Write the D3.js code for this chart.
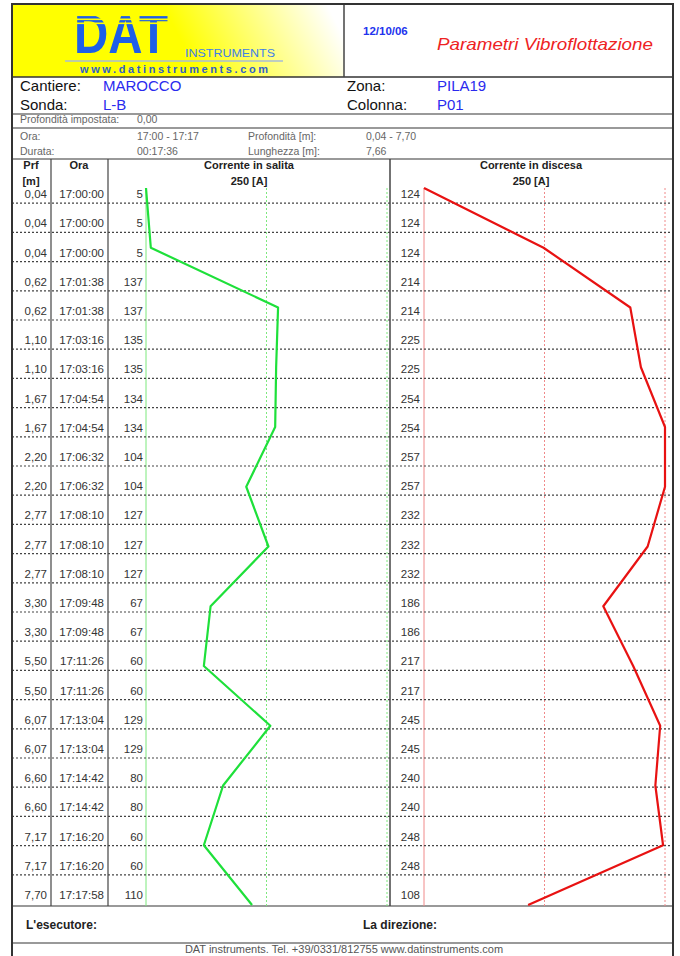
<!DOCTYPE html>
<html>
<head>
<meta charset="utf-8">
<script src="https://cdn.jsdelivr.net/npm/d3@7"></script>
<style>
  body { margin: 0; background: #fff; }
  svg { display: block; font-family: Arial, "Liberation Sans", sans-serif; }
</style>
</head>
<body>
<svg id="chart" width="680" height="956"></svg>
<script>
// table rows
var depths = ["0,04","0,04","0,04","0,62","0,62","1,10","1,10","1,67","1,67","2,20","2,20","2,77","2,77","2,77","3,30","3,30","5,50","5,50","6,07","6,07","6,60","6,60","7,17","7,17","7,70"];
var times = ["17:00:00","17:00:00","17:00:00","17:01:38","17:01:38","17:03:16","17:03:16","17:04:54","17:04:54","17:06:32","17:06:32","17:08:10","17:08:10","17:08:10","17:09:48","17:09:48","17:11:26","17:11:26","17:13:04","17:13:04","17:14:42","17:14:42","17:16:20","17:16:20","17:17:58"];
var upRows = [5,5,5,137,137,135,135,134,134,104,104,127,127,127,67,67,60,60,129,129,80,80,60,60,110];
var downRows = [124,124,124,214,214,225,225,254,254,257,257,232,232,232,186,186,217,217,245,245,240,240,248,248,108];

// curve vertices (sampled current)
var upCurve = [0,5,137,135,134,104,127,67,60,129,80,60,110];
var downCurve = [0,124,214,225,254,257,232,186,217,245,240,248,108];
var gridTicks = [0,125,250];

var svg = d3.select("#chart");
var L = 12, R = 673;

// header gradient
var defs = svg.append("defs");
var grad = defs.append("linearGradient").attr("id","yel")
    .attr("gradientUnits","userSpaceOnUse")
    .attr("x1",200).attr("y1",77).attr("x2",330).attr("y2",10);
grad.append("stop").attr("offset",0).attr("stop-color","#ffff00");
grad.append("stop").attr("offset",1).attr("stop-color","#ffffff");
defs.append("clipPath").attr("id","plotclip")
    .append("rect").attr("x",L).attr("y",159).attr("width",R-L).attr("height",906-159);

svg.append("rect").attr("x",L).attr("y",4).attr("width",344-L).attr("height",73).attr("fill","url(#yel)");

// logo
var logo = svg.append("g");
logo.append("text").attr("x",74).attr("y",53).attr("font-size",56).attr("font-weight","bold")
    .attr("textLength",94).attr("lengthAdjust","spacingAndGlyphs")
    .attr("fill","#1e5fe8").text("DAT");
[14.5,18.5,22.5].forEach(function(y){
    logo.append("rect").attr("x",72).attr("y",y).attr("width",100).attr("height",1.6).attr("fill","url(#yel)");
});
logo.append("text").attr("x",185).attr("y",57).attr("font-size",10.5)
    .attr("textLength",90).attr("lengthAdjust","spacingAndGlyphs")
    .attr("fill","#3f80e8").text("INSTRUMENTS");
logo.append("line").attr("x1",65).attr("x2",283).attr("y1",61).attr("y2",61)
    .attr("stroke","#a8bcd6").attr("stroke-width",1.5);
logo.append("text").attr("x",80).attr("y",73).attr("font-size",11).attr("font-weight","bold")
    .attr("textLength",188).attr("lengthAdjust","spacing")
    .attr("fill","#2f5fc8").text("www.datinstruments.com");

svg.append("text").attr("x",363).attr("y",35).attr("font-size",11.5).attr("font-weight","bold")
    .attr("fill","#2233ee").text("12/10/06");
svg.append("text").attr("x",437).attr("y",50).attr("font-size",16.5).attr("font-style","italic")
    .attr("textLength",216).attr("lengthAdjust","spacingAndGlyphs")
    .attr("fill","#ee2222").text("Parametri Vibroflottazione");

// info block
var info = [
    {x:20,y:91,t:"Cantiere:",c:"#111"},{x:103,y:91,t:"MAROCCO",c:"#2a2aee"},
    {x:347,y:91,t:"Zona:",c:"#111"},{x:437,y:91,t:"PILA19",c:"#2a2aee"},
    {x:20,y:110,t:"Sonda:",c:"#111"},{x:103,y:110,t:"L-B",c:"#2a2aee"},
    {x:347,y:110,t:"Colonna:",c:"#111"},{x:437,y:110,t:"P01",c:"#2a2aee"}
];
svg.selectAll(".info").data(info).enter().append("text")
    .attr("x",d=>d.x).attr("y",d=>d.y).attr("font-size",15).attr("fill",d=>d.c).text(d=>d.t);

var small = [
    {x:20,y:123,t:"Profondità impostata:"},{x:137,y:123,t:"0,00"},
    {x:20,y:140,t:"Ora:"},{x:137,y:140,t:"17:00 - 17:17"},{x:248,y:140,t:"Profondità [m]:"},{x:366,y:140,t:"0,04 - 7,70"},
    {x:20,y:155,t:"Durata:"},{x:137,y:155,t:"00:17:36"},{x:248,y:155,t:"Lunghezza [m]:"},{x:366,y:155,t:"7,66"}
];
svg.selectAll(".small").data(small).enter().append("text")
    .attr("x",d=>d.x).attr("y",d=>d.y).attr("font-size",10.5).attr("fill","#666").text(d=>d.t);

// frame lines
var hl = [77,114,128,159,906,943];
svg.selectAll(".hl").data(hl).enter().append("line")
    .attr("x1",L).attr("x2",R).attr("y1",d=>d).attr("y2",d=>d)
    .attr("stroke",(d,i)=>i==0?"#333":"#777").attr("stroke-width",1.6);
svg.append("line").attr("x1",344).attr("x2",344).attr("y1",4).attr("y2",77).attr("stroke","#444").attr("stroke-width",1.5);
[51,108,390].forEach(function(x){
    svg.append("line").attr("x1",x).attr("x2",x).attr("y1",159).attr("y2",906)
        .attr("stroke","#444").attr("stroke-width",x==390?1.5:1.2);
});

// scales
var xUp = d3.scaleLinear().domain([0,250]).range([146,387]).clamp(true);
var xDown = d3.scaleLinear().domain([0,250]).range([424,665]).clamp(true);
var yRow = d3.scaleLinear().domain([0,25]).range([174,904]);
var yCurve = d3.scaleLinear().domain([0,upCurve.length-1]).range([188,905]);

// value reference lines
gridTicks.forEach(function(v,i){
    svg.append("line").attr("x1",xUp(v)).attr("x2",xUp(v)).attr("y1",188).attr("y2",906)
        .attr("stroke","#7de87d").attr("stroke-width",1).attr("stroke-dasharray",i==0?null:"2,2");
    svg.append("line").attr("x1",xDown(v)).attr("x2",xDown(v)).attr("y1",188).attr("y2",906)
        .attr("stroke","#f08a8a").attr("stroke-width",1).attr("stroke-dasharray",i==0?null:"2,2");
});

// row dotted lines
svg.selectAll(".grid").data(d3.range(1,depths.length)).enter().append("line")
    .attr("x1",L).attr("x2",R).attr("y1",d=>yRow(d)).attr("y2",d=>yRow(d))
    .attr("stroke","#444").attr("stroke-width",1.2).attr("stroke-dasharray","2,2");

// column headers
var hdr = svg.append("g").attr("font-size",11).attr("font-weight","bold").attr("fill","#222").attr("text-anchor","middle");
hdr.append("text").attr("x",31).attr("y",169).text("Prf");
hdr.append("text").attr("x",31).attr("y",185).text("[m]");
hdr.append("text").attr("x",79).attr("y",169).text("Ora");
hdr.append("text").attr("x",249).attr("y",169).text("Corrente in salita");
hdr.append("text").attr("x",249).attr("y",185).text("250 [A]");
hdr.append("text").attr("x",531).attr("y",169).text("Corrente in discesa");
hdr.append("text").attr("x",531).attr("y",185).text("250 [A]");

// table rows
var rows = svg.append("g").attr("font-size",11.5).attr("fill","#333");
depths.forEach(function(d,i){
    var y = yRow(i+1) - 5;
    rows.append("text").attr("x",47).attr("y",y).attr("text-anchor","end").text(d);
    rows.append("text").attr("x",104).attr("y",y).attr("text-anchor","end").text(times[i]);
    rows.append("text").attr("x",143).attr("y",y).attr("text-anchor","end").text(upRows[i]);
    rows.append("text").attr("x",420).attr("y",y).attr("text-anchor","end").text(downRows[i]);
});

// curves
var plot = svg.append("g").attr("clip-path","url(#plotclip)");
plot.append("path").datum(upCurve)
    .attr("d", d3.line().x(d=>xUp(d)).y((d,i)=>yCurve(i)))
    .attr("fill","none").attr("stroke","#1ee03a").attr("stroke-width",2.2).attr("stroke-linejoin","round");
plot.append("path").datum(downCurve)
    .attr("d", d3.line().x(d=>xDown(d)).y((d,i)=>yCurve(i)))
    .attr("fill","none").attr("stroke","#e81212").attr("stroke-width",2.2).attr("stroke-linejoin","round");

// signatures and footer
svg.append("text").attr("x",26).attr("y",929).attr("font-size",12).attr("font-weight","bold").attr("fill","#222").text("L'esecutore:");
svg.append("text").attr("x",363).attr("y",929).attr("font-size",12).attr("font-weight","bold").attr("fill","#222").text("La direzione:");
svg.append("text").attr("x",344).attr("y",953).attr("font-size",11).attr("fill","#555").attr("text-anchor","middle")
    .text("DAT instruments. Tel. +39/0331/812755  www.datinstruments.com");

// outer border
svg.append("rect").attr("x",L).attr("y",4).attr("width",R-L).attr("height",970)
    .attr("fill","none").attr("stroke","#333").attr("stroke-width",2);
</script>
</body>
</html>
